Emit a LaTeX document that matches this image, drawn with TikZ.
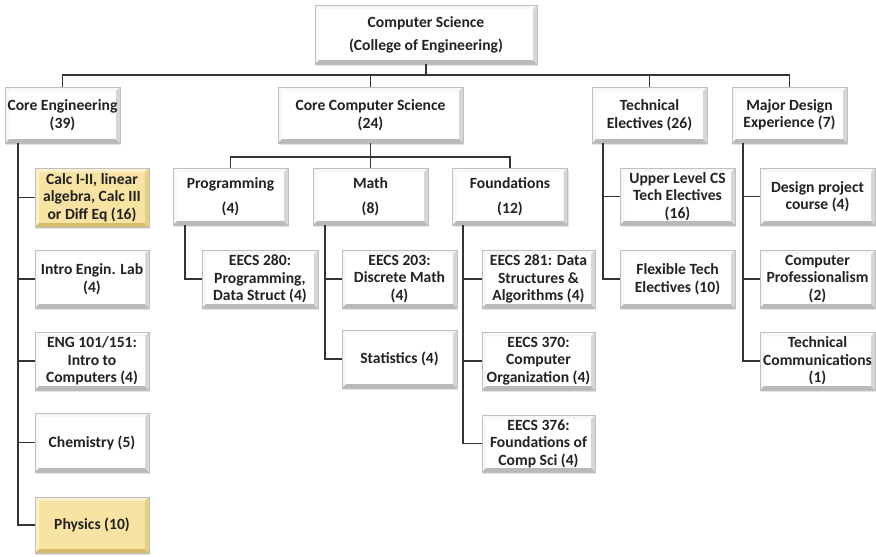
\documentclass[tikz,border=0pt]{standalone}
\usepackage{fontspec}
\setmainfont{Carlito}
\usetikzlibrary{calc,shadows}

\definecolor{wface}{HTML}{FFFFFF}
\definecolor{wlight}{HTML}{F7F7F7}
\definecolor{wdark}{HTML}{B9B9B9}
\definecolor{wside}{HTML}{D6D6D6}
\definecolor{yface}{HTML}{F8E3A2}
\definecolor{ylight}{HTML}{FCF0CA}
\definecolor{ydark}{HTML}{D7BB6C}
\definecolor{yside}{HTML}{E8CF88}
\definecolor{linec}{HTML}{333333}
\definecolor{txt}{HTML}{222222}

\tikzset{
  box/.style={
    draw=gray!50, line width=0.5pt, fill=#1face,
    inner sep=0pt, align=center, text=txt,
    font=\bfseries\fontsize{15.6}{17.5}\selectfont,
    drop shadow={opacity=0.22, shadow xshift=1.2pt, shadow yshift=-1.6pt},
    path picture={
      \path (path picture bounding box.south west) coordinate (bsw)
            (path picture bounding box.north east) coordinate (bne)
            (path picture bounding box.north west) coordinate (bnw)
            (path picture bounding box.south east) coordinate (bse);
      \fill[#1light] (bnw) -- (bne) -- ($(bne)+(-4pt,-4pt)$) -- ($(bnw)+(4pt,-4pt)$) -- cycle;
      \fill[#1light] (bnw) -- (bsw) -- ($(bsw)+(4pt,4pt)$) -- ($(bnw)+(4pt,-4pt)$) -- cycle;
      \fill[#1dark] (bsw) -- (bse) -- ($(bse)+(-4pt,4pt)$) -- ($(bsw)+(4pt,4pt)$) -- cycle;
      \fill[#1side] (bse) -- (bne) -- ($(bne)+(-4pt,-4pt)$) -- ($(bse)+(-4pt,4pt)$) -- cycle;
    }},
  wbox/.style={box=w},
  ybox/.style={box=y},
  conn/.style={draw=linec, line width=1.6pt},
}

\begin{document}
\begin{tikzpicture}[x=1pt, y=-1pt]
\useasboundingbox (0,0) rectangle (876,557);

% top level
\node[wbox, minimum width=222pt, minimum height=59pt] (root) at (426,34.5)
  {Computer Science\\[5.5pt](College of Engineering)};

% second level
\node[wbox, minimum width=115pt, minimum height=56pt] (coreeng) at (62.5,115) {Core Engineering\\(39)};
\node[wbox, minimum width=185pt, minimum height=56pt] (corecs) at (370.5,115) {Core Computer Science\\(24)};
\node[wbox, minimum width=115pt, minimum height=56pt] (techel) at (649.5,115) {Technical\\Electives (26)};
\node[wbox, minimum width=115pt, minimum height=56pt] (major) at (789.5,115) {Major Design\\Experience (7)};

% core computer science groups
\node[wbox, minimum width=115pt, minimum height=57pt] (prog) at (230.5,196.5) {Programming\\[7.5pt](4)};
\node[wbox, minimum width=115pt, minimum height=57pt] (math) at (370.5,196.5) {Math\\[7.5pt](8)};
\node[wbox, minimum width=115pt, minimum height=57pt] (found) at (510,196.5) {Foundations\\[7.5pt](12)};

% courses
\node[wbox, minimum width=116pt, minimum height=58pt] (e280) at (260,279) {EECS 280:\\Programming,\\Data Struct (4)};
\node[wbox, minimum width=115pt, minimum height=58pt] (e203) at (399.5,279) {EECS 203:\\Discrete Math\\(4)};
\node[wbox, minimum width=115pt, minimum height=58pt] (stats) at (399.5,359) {Statistics (4)};
\node[wbox, minimum width=113pt, minimum height=58pt] (e281) at (538.5,279) {EECS 281: Data\\Structures \&\\Algorithms (4)};
\node[wbox, minimum width=113pt, minimum height=58pt] (e370) at (538.5,361) {EECS 370:\\Computer\\Organization (4)};
\node[wbox, minimum width=113pt, minimum height=57pt] (e376) at (538.5,443.5) {EECS 376:\\Foundations of\\Comp Sci (4)};

\node[ybox, minimum width=114pt, minimum height=59pt] (calc) at (92,197.5) {Calc I-II, linear\\algebra, Calc III\\or Diff Eq (16)};
\node[wbox, minimum width=114pt, minimum height=58pt] (lab) at (92,279) {Intro Engin. Lab\\(4)};
\node[wbox, minimum width=114pt, minimum height=58pt] (eng) at (92,361) {ENG 101/151:\\Intro to\\Computers (4)};
\node[wbox, minimum width=114pt, minimum height=59pt] (chem) at (92,442.5) {Chemistry (5)};
\node[ybox, minimum width=114pt, minimum height=56pt] (phys) at (92,525) {Physics (10)};

\node[wbox, minimum width=115pt, minimum height=57pt] (upper) at (677.5,196.5) {Upper Level CS\\Tech Electives\\(16)};
\node[wbox, minimum width=115pt, minimum height=58pt] (flex) at (677.5,279) {Flexible Tech\\Electives (10)};

\node[wbox, minimum width=115pt, minimum height=57pt] (design) at (817.5,196.5) {Design project\\course (4)};
\node[wbox, minimum width=115pt, minimum height=58pt] (prof) at (817.5,279) {Computer\\Professionalism\\(2)};
\node[wbox, minimum width=115pt, minimum height=58pt] (comm) at (817.5,361) {Technical\\Communications\\(1)};

% junctions
\coordinate (jroot) at (426,75);
\coordinate (jcs) at (370.5,157);
\coordinate (tce) at ($(coreeng.south west)+(13pt,0)$);
\coordinate (tpr) at ($(prog.south west)+(12pt,0)$);
\coordinate (tma) at ($(math.south west)+(12pt,0)$);
\coordinate (tfo) at ($(found.south west)+(11pt,0)$);
\coordinate (tte) at ($(techel.south west)+(11pt,0)$);
\coordinate (tmd) at ($(major.south west)+(11pt,0)$);

% root to second level
\draw[conn] (root.south) -- (jroot);
\draw[conn] (coreeng.north) -- (coreeng.north |- jroot) -- (major.north |- jroot) -- (major.north);
\draw[conn] (corecs.north) -- (corecs.north |- jroot);
\draw[conn] (techel.north) -- (techel.north |- jroot);

% core computer science to its groups
\draw[conn] (corecs.south) -- (jcs);
\draw[conn] (prog.north) -- (prog.north |- jcs) -- (found.north |- jcs) -- (found.north);
\draw[conn] (math.north) -- (math.north |- jcs);

% elbow connectors to the courses
\draw[conn] (tce) |- (phys.west);
\foreach \c in {calc,lab,eng,chem} \draw[conn] (tce |- \c.west) -- (\c.west);
\draw[conn] (tpr) |- (e280.west);
\draw[conn] (tma) |- (stats.west);
\draw[conn] (tma |- e203.west) -- (e203.west);
\draw[conn] (tfo) |- (e376.west);
\foreach \c in {e281,e370} \draw[conn] (tfo |- \c.west) -- (\c.west);
\draw[conn] (tte) |- (flex.west);
\draw[conn] (tte |- upper.west) -- (upper.west);
\draw[conn] (tmd) |- (comm.west);
\foreach \c in {design,prof} \draw[conn] (tmd |- \c.west) -- (\c.west);
\end{tikzpicture}
\end{document}
